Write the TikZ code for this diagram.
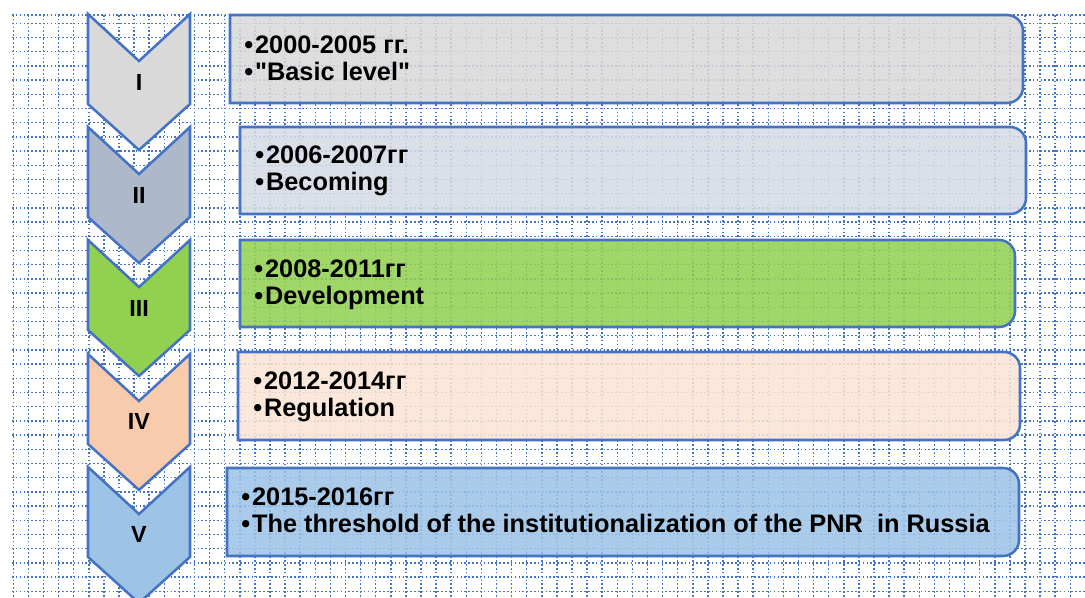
\documentclass[tikz,border=0pt]{standalone}
\usepackage{fontspec}
\setmainfont{Liberation Sans}[Ligatures=TeXOff]
\definecolor{stageline}{HTML}{4472C4}
\definecolor{chevI}{HTML}{D9D9D9}
\definecolor{boxI}{HTML}{D9D9D9}
\definecolor{chevII}{HTML}{ADB9CA}
\definecolor{boxII}{HTML}{D6DCE5}
\definecolor{chevIII}{HTML}{92D050}
\definecolor{boxIII}{HTML}{92D050}
\definecolor{chevIV}{HTML}{F8CBAD}
\definecolor{boxIV}{HTML}{FBE5D6}
\definecolor{chevV}{HTML}{9DC3E6}
\definecolor{boxV}{HTML}{9DC3E6}
\newcommand{\bul}{•\kern1.5pt}

\begin{document}
\begin{tikzpicture}[x=0.75pt,y=-0.75pt,
  gridline/.style={stageline,line width=1.1pt,dash pattern=on 1.2pt off 1.7pt},
  chev/.style={draw=stageline,line width=1.9pt,line join=miter},
  stagebox/.style={draw=stageline,line width=1.9pt,fill opacity=0.86},
  numtext/.style={font=\fontsize{17.5}{20}\selectfont\bfseries,inner sep=0pt},
  stagetext/.style={font=\fontsize{19}{22}\selectfont\bfseries,anchor=base west,inner sep=0pt}]
% PAGE
\fill [white] (0,0) rectangle (1085,597);
\useasboundingbox (0,0) rectangle (1085,597);
\clip (0,0) rectangle (1085,597);
% BACKGROUND GRID
\draw [gridline] (12,15) -- (1085,15);
\foreach \gx in {0,...,71}
  \draw [gridline] (13.3+15.1*\gx,15) -- (13.3+15.1*\gx,597);
\foreach \gy in {0,...,40}
  \draw [gridline] (12,23.3+14.2*\gy) -- (1085,23.3+14.2*\gy);
% CHEVRONS
\draw [chev,fill=chevI] (88,14) -- (139,61) -- (190,14) -- (190,104) -- (139,150) -- (88,104) -- cycle;
\node [numtext] (numI) at (139,82) {I};
\draw [chev,fill=chevII] (88,127) -- (139,174) -- (190,127) -- (190,217) -- (139,263) -- (88,217) -- cycle;
\node [numtext] (numII) at (139,195) {II};
\draw [chev,fill=chevIII] (88,240) -- (139,287) -- (190,240) -- (190,330) -- (139,376) -- (88,330) -- cycle;
\node [numtext] (numIII) at (139,308) {III};
\draw [chev,fill=chevIV] (88,354) -- (139,401) -- (190,354) -- (190,444) -- (139,490) -- (88,444) -- cycle;
\node [numtext] (numIV) at (139,421) {IV};
\draw [chev,fill=chevV] (88,467) -- (139,514) -- (190,467) -- (190,557) -- (139,603) -- (88,557) -- cycle;
\node [numtext] (numV) at (139,534) {V};
% STAGE BOXES
\draw [stagebox,fill=boxI] (230,15) [rounded corners=12pt] -- (1023,15) -- (1023,103) [sharp corners] -- (230,103) -- cycle;
\node [stagetext] (yearsI) at (244,53) {\bul 2000-2005 гг.};
\node [stagetext] (titleI) at (244,80) {\bul "Basic level"};
\draw [stagebox,fill=boxII] (240,127) [rounded corners=12pt] -- (1026,127) -- (1026,214) [sharp corners] -- (240,214) -- cycle;
\node [stagetext] (yearsII) at (255,163) {\bul 2006-2007гг};
\node [stagetext] (titleII) at (255,190) {\bul Becoming};
\draw [stagebox,fill=boxIII] (240,240) [rounded corners=12pt] -- (1015,240) -- (1015,327) [sharp corners] -- (240,327) -- cycle;
\node [stagetext] (yearsIII) at (254,277) {\bul 2008-2011гг};
\node [stagetext] (titleIII) at (254,304) {\bul Development};
\draw [stagebox,fill=boxIV] (238,352) [rounded corners=12pt] -- (1020,352) -- (1020,440) [sharp corners] -- (238,440) -- cycle;
\node [stagetext] (yearsIV) at (253,389) {\bul 2012-2014гг};
\node [stagetext] (titleIV) at (253,416) {\bul Regulation};
\draw [stagebox,fill=boxV] (227,468) [rounded corners=12pt] -- (1019,468) -- (1019,556) [sharp corners] -- (227,556) -- cycle;
\node [stagetext] (yearsV) at (241,505) {\bul 2015-2016гг};
\node [stagetext] (titleV) at (241,532) {\bul The threshold of the institutionalization of the PNR~~in Russia};
\end{tikzpicture}
\end{document}
